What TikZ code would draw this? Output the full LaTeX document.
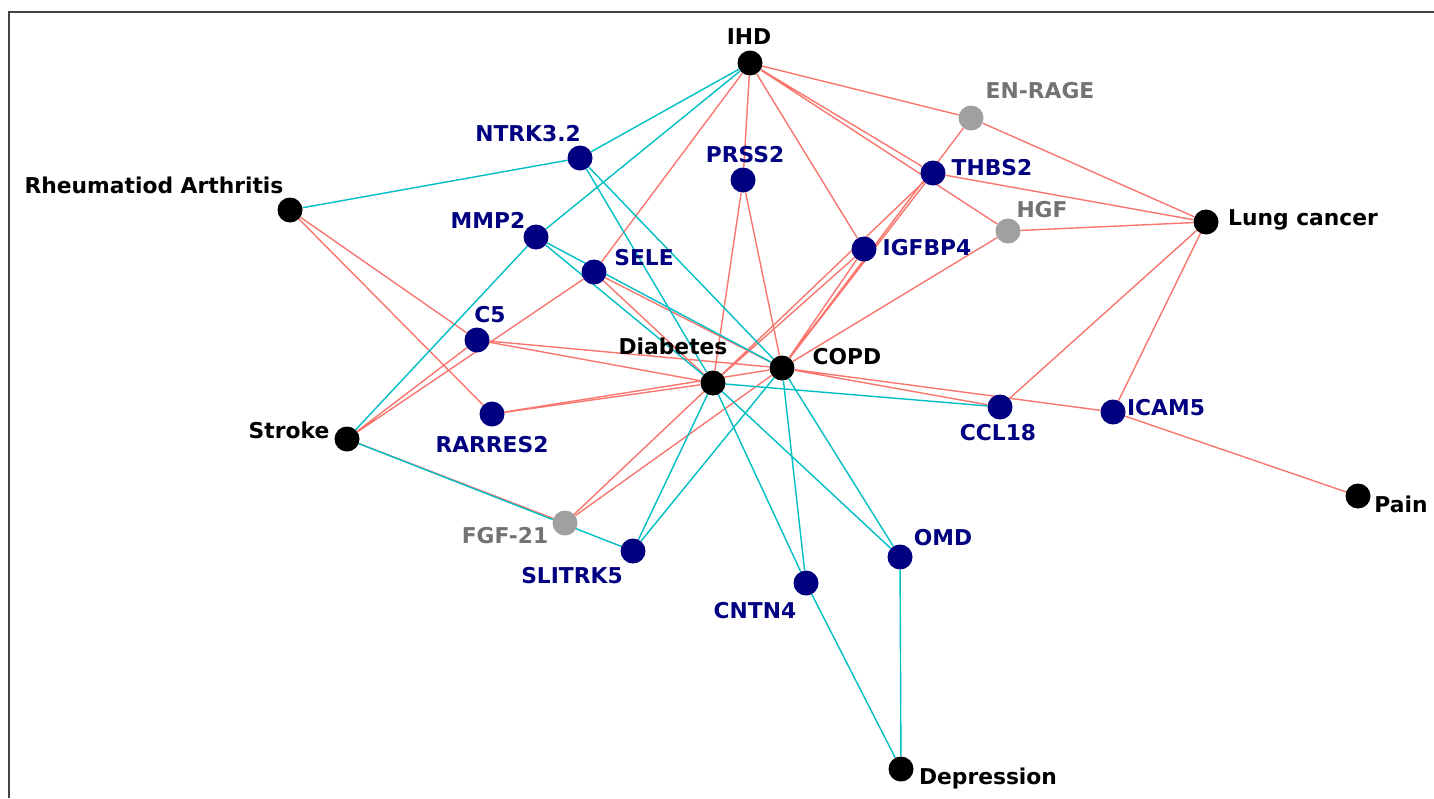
\documentclass[tikz,border=0pt]{standalone}
\usepackage{fontspec}
\setmainfont{DejaVu Sans}
\usetikzlibrary{backgrounds}
\definecolor{rededge}{HTML}{F8766D}
\definecolor{cyanedge}{HTML}{00BFC4}
\definecolor{protblue}{HTML}{000080}
\definecolor{protgray}{HTML}{A0A0A0}
\definecolor{graytext}{HTML}{737373}
\definecolor{framegray}{HTML}{444444}
\begin{document}
\begin{tikzpicture}[x=1pt,y=-1pt]
    \newcommand{\fsize}{21.8} % font size of the labels

    % set the styles of sites, labels and bonds
    \tikzset{
        site/.style={circle, minimum size=25pt, inner sep=0pt},
        disease/.style={site, fill=black},
        protein/.style={site, fill=protblue},
        weakprot/.style={site, fill=protgray},
        lbl/.style={font=\fontsize{\fsize}{25}\selectfont\bfseries,
            text height=15.5pt, text depth=0pt, inner sep=0pt},
        dislbl/.style={lbl, text=black},
        protlbl/.style={lbl, text=protblue},
        weaklbl/.style={lbl, text=graytext},
        redbond/.style={draw=rededge, line width=1.4pt},
        cyanbond/.style={draw=cyanedge, line width=1.4pt}
    }

    \useasboundingbox (0,0) rectangle (1434,798);
    % frame
    \draw[framegray, line width=2pt] (9,798) -- (9,12) -- (1434,12);

    % disease sites
    \node[disease] (ihd) at (750,63) {};
    \node[disease] (lung) at (1206,222) {};
    \node[disease] (ra) at (290,210) {};
    \node[disease] (diab) at (713,383) {};
    \node[disease] (copd) at (782,368) {};
    \node[disease] (stroke) at (347,439) {};
    \node[disease] (pain) at (1358,496) {};
    \node[disease] (depr) at (901,769) {};

    % protein sites
    \node[protein] (ntrk) at (580,158) {};
    \node[protein] (prss) at (743,180) {};
    \node[weakprot] (enrage) at (971,118) {};
    \node[protein] (thbs) at (933,173) {};
    \node[weakprot] (hgf) at (1008,231) {};
    \node[protein] (igfbp) at (864,249) {};
    \node[protein] (mmp) at (536,237) {};
    \node[protein] (sele) at (594,272) {};
    \node[protein] (cfive) at (477,340) {};
    \node[protein] (rarres) at (492,414) {};
    \node[protein] (ccl) at (1000,407) {};
    \node[protein] (icam) at (1113,412) {};
    \node[weakprot] (fgf) at (565,523) {};
    \node[protein] (slitrk) at (633,551) {};
    \node[protein] (omd) at (900,557) {};
    \node[protein] (cntn) at (806,583) {};

    % labels
    \node[dislbl] (ihd-l) at (749,37) {IHD};
    \node[dislbl] (lung-l) at (1303,218) {Lung cancer};
    \node[dislbl] (ra-l) at (154,186) {Rheumatiod Arthritis};
    \node[dislbl] (diab-l) at (673,347) {Diabetes};
    \node[dislbl] (copd-l) at (847,357) {COPD};
    \node[dislbl] (stroke-l) at (289,431) {Stroke};
    \node[dislbl] (pain-l) at (1401,505) {Pain};
    \node[dislbl] (depr-l) at (988,777) {Depression};
    \node[protlbl] (ntrk-l) at (528,134) {NTRK3.2};
    \node[protlbl] (prss-l) at (745,155) {PRSS2};
    \node[weaklbl] (enrage-l) at (1040,91) {EN-RAGE};
    \node[protlbl] (thbs-l) at (992,168) {THBS2};
    \node[weaklbl] (hgf-l) at (1042,210) {HGF};
    \node[protlbl] (igfbp-l) at (927,248) {IGFBP4};
    \node[protlbl] (mmp-l) at (488,221) {MMP2};
    \node[protlbl] (sele-l) at (644,258) {SELE};
    \node[protlbl] (cfive-l) at (490,315) {C5};
    \node[protlbl] (rarres-l) at (492,445) {RARRES2};
    \node[protlbl] (ccl-l) at (998,433) {CCL18};
    \node[protlbl] (icam-l) at (1166,408) {ICAM5};
    \node[weaklbl] (fgf-l) at (505,536) {FGF-21};
    \node[protlbl] (slitrk-l) at (572,576) {SLITRK5};
    \node[protlbl] (omd-l) at (943,538) {OMD};
    \node[protlbl] (cntn-l) at (755,611) {CNTN4};

    \begin{pgfonlayer}{background}
    % red bonds
    \draw[redbond] (ihd) -- (sele) (ihd) -- (prss) (ihd) -- (igfbp)
        (ihd) -- (thbs) (ihd) -- (hgf) (ihd) -- (enrage);
    \draw[redbond] (lung) -- (enrage) (lung) -- (thbs) (lung) -- (hgf)
        (lung) -- (ccl) (lung) -- (icam);
    \draw[redbond] (ra) -- (cfive) (ra) -- (rarres);
    \draw[redbond] (stroke) -- (cfive) (stroke) -- (sele) (stroke) -- (fgf);
    \draw[redbond] (diab) -- (prss) (diab) -- (cfive) (diab) -- (rarres)
        (diab) -- (sele) (diab) -- (igfbp) (diab) -- (thbs) (diab) -- (fgf);
    \draw[redbond] (copd) -- (prss) (copd) -- (cfive) (copd) -- (rarres)
        (copd) -- (sele) (copd) -- (igfbp) (copd) -- (thbs) (copd) -- (enrage)
        (copd) -- (hgf) (copd) -- (fgf) (copd) -- (ccl) (copd) -- (icam);
    \draw[redbond] (pain) -- (icam);

    % cyan bonds
    \draw[cyanbond] (ihd) -- (ntrk) (ihd) -- (mmp);
    \draw[cyanbond] (ra) -- (ntrk);
    \draw[cyanbond] (stroke) -- (mmp) (stroke) -- (slitrk);
    \draw[cyanbond] (diab) -- (ntrk) (diab) -- (mmp) (diab) -- (ccl)
        (diab) -- (slitrk) (diab) -- (cntn) (diab) -- (omd);
    \draw[cyanbond] (copd) -- (ntrk) (copd) -- (mmp) (copd) -- (slitrk)
        (copd) -- (cntn) (copd) -- (omd);
    \draw[cyanbond] (depr) -- (cntn) (depr) -- (omd);
    \end{pgfonlayer}
\end{tikzpicture}
\end{document}
